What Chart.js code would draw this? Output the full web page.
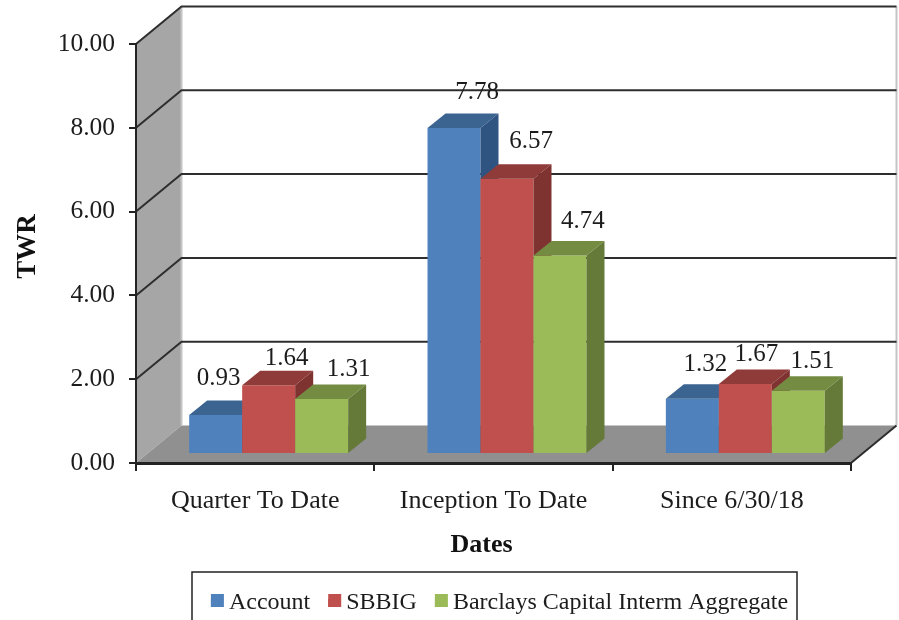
<!DOCTYPE html>
<html>
<head>
<meta charset="utf-8">
<style>html,body{margin:0;padding:0;background:#fff;overflow:hidden}canvas{display:block}</style>
<script src="https://cdn.jsdelivr.net/npm/chart.js@4"></script>
</head>
<body>
<canvas id="c" width="899" height="620"></canvas>
<script>
const categories = ['Quarter To Date', 'Inception To Date', 'Since 6/30/18'];
const account = [0.93, 7.78, 1.32];
const sbbig = [1.64, 6.57, 1.67];
const barclays = [1.31, 4.74, 1.51];
const seriesNames = ['Account', 'SBBIG', 'Barclays Capital Interm Aggregate'];

const FONT = '"Liberation Serif","Times New Roman",serif';
const WALL = {dx: 45.5, dy: 37.5};
const BAR_SHIFT = {dx: 13.5, dy: 9};
const BAR_DEPTH = {dx: 18, dy: 14.5};
const faces = [
  {top: '#3c6491', side: '#2f5482'},
  {top: '#8f3b39', side: '#7f3331'},
  {top: '#748c42', side: '#657a39'}
];
// manual label placement relative to each bar's front-top centre [dx, dy]
const labelShift = [
  [[3,-37],[23,-36],[13,-34]],
  [[18,-27],[24,-37],[11,-30]],
  [[27,-30],[23,-34],[14,-29]]
];

function poly(ctx, pts, fill) {
  ctx.beginPath();
  pts.forEach((p, i) => i ? ctx.lineTo(p[0], p[1]) : ctx.moveTo(p[0], p[1]));
  ctx.closePath();
  ctx.fillStyle = fill;
  ctx.fill();
}

const scene3d = {
  id: 'scene3d',
  afterLayout(chart) {
    const lg = chart.legend;
    const shift = 148;
    lg.left = shift;
    lg.top = 573;
    lg.legendHitBoxes.forEach(h => { h.left += shift / 2; });
    const wrap = (s, dx, dy) => {
      if (s._wrapped) return;
      s._wrapped = true;
      const orig = s.drawTitle;
      s.drawTitle = function () {
        const k = [this.left, this.right, this.top, this.bottom];
        this.left += dx; this.right += dx; this.top += dy; this.bottom += dy;
        orig.apply(this, arguments);
        [this.left, this.right, this.top, this.bottom] = k;
      };
    };
    wrap(chart.scales.x, -12, 0);
    wrap(chart.scales.y, 0, -7);
  },
  beforeDraw(chart) {
    const {ctx, chartArea: a, scales: {y}} = chart;
    const d = WALL;
    ctx.save();
    ctx.fillStyle = '#fff';
    ctx.fillRect(0, 0, chart.width, chart.height);
    // side wall and floor
    poly(ctx, [[a.left, a.top], [a.left + d.dx, a.top - d.dy], [a.left + d.dx, a.bottom - d.dy], [a.left, a.bottom]], '#a6a6a6');
    poly(ctx, [[a.left, a.bottom], [a.right, a.bottom], [a.right + d.dx, a.bottom - d.dy], [a.left + d.dx, a.bottom - d.dy]], '#909090');
    // lighter edges of the back wall
    ctx.strokeStyle = '#c4c4c4';
    ctx.lineWidth = 2;
    ctx.beginPath();
    ctx.moveTo(a.left + d.dx, a.top - d.dy); ctx.lineTo(a.left + d.dx, a.bottom - d.dy);
    ctx.moveTo(a.right + d.dx, a.top - d.dy); ctx.lineTo(a.right + d.dx, a.bottom - d.dy);
    ctx.stroke();
    // gridlines: diagonal across the wall, then along the back
    ctx.strokeStyle = '#2e2e2e';
    ctx.lineWidth = 2;
    y.ticks.forEach(t => {
      const py = y.getPixelForValue(t.value);
      ctx.beginPath();
      if (t.value === 0) {
        ctx.moveTo(a.right, py); ctx.lineTo(a.right + d.dx, py - d.dy);
      } else {
        ctx.moveTo(a.left, py); ctx.lineTo(a.left + d.dx, py - d.dy);
        ctx.lineTo(a.right + d.dx, py - d.dy);
      }
      ctx.stroke();
    });
    ctx.restore();
  },
  // Painter's order: first series first, so each bar's front hides its left neighbour's side.
  beforeDatasetsDraw(chart) {
    const ctx = chart.ctx;
    const d = BAR_DEPTH;
    chart.data.datasets.forEach((ds, i) => {
      const meta = chart.getDatasetMeta(i);
      const f = faces[i];
      ctx.save();
      ctx.translate(BAR_SHIFT.dx, -BAR_SHIFT.dy);
      meta.controller.draw();
      meta.data.forEach(b => {
        const l = b.x - b.width / 2, r = b.x + b.width / 2, t = b.y, base = b.base;
        poly(ctx, [[l, t], [r, t], [r + d.dx, t - d.dy], [l + d.dx, t - d.dy]], f.top);
        poly(ctx, [[r, t], [r + d.dx, t - d.dy], [r + d.dx, base - d.dy], [r, base]], f.side);
      });
      ctx.restore();
    });
    ctx.save();
    ctx.font = '25px ' + FONT;
    ctx.fillStyle = '#1c1c1c';
    ctx.textAlign = 'center';
    ctx.textBaseline = 'middle';
    chart.data.datasets.forEach((ds, i) => {
      chart.getDatasetMeta(i).data.forEach((b, j) => {
        const s = labelShift[i][j];
        ctx.fillText(ds.data[j].toFixed(2), b.x + BAR_SHIFT.dx + s[0], b.y - BAR_SHIFT.dy + s[1]);
      });
    });
    ctx.restore();
    return false;
  },
  afterDraw(chart) {
    const ctx = chart.ctx;
    ctx.save();
    ctx.strokeStyle = '#222';
    ctx.lineWidth = 1.5;
    ctx.strokeRect(192, 572, 605, 60);
    // widen the legend swatches, whose text offset is tied to the box width
    chart.legend.legendHitBoxes.forEach((h, i) => {
      ctx.fillStyle = chart.data.datasets[i].backgroundColor;
      ctx.fillRect(h.left, 594, 13, 13);
    });
    ctx.restore();
  }
};

new Chart(document.getElementById('c'), {
  type: 'bar',
  data: {
    labels: categories,
    datasets: [
      {label: seriesNames[0], data: account, backgroundColor: '#4f81bd'},
      {label: seriesNames[1], data: sbbig, backgroundColor: '#c0504d'},
      {label: seriesNames[2], data: barclays, backgroundColor: '#9bbb59'}
    ]
  },
  plugins: [scene3d],
  options: {
    responsive: false,
    animation: false,
    layout: {padding: {top: 44, right: 48, left: 0, bottom: 0}},
    datasets: {bar: {categoryPercentage: 0.667, barPercentage: 1, borderWidth: 0, clip: false}},
    plugins: {
      title: {display: false},
      tooltip: {enabled: false},
      legend: {
        display: true,
        position: 'bottom',
        labels: {
          boxWidth: 6, boxHeight: 8, padding: 18, color: '#1c1c1c',
          font: {family: FONT, size: 24}
        }
      }
    },
    scales: {
      x: {
        afterFit(s) { s.height = 105; },
        grid: {display: true, drawOnChartArea: false, drawTicks: true, tickLength: 8, color: '#222', lineWidth: 2},
        border: {display: true, color: '#222', width: 3},
        ticks: {color: '#1c1c1c', padding: 15, font: {family: FONT, size: 26}, maxRotation: 0},
        title: {display: true, text: 'Dates', color: '#111', padding: {top: 14, bottom: 7}, font: {family: FONT, size: 26, weight: 'bold'}}
      },
      y: {
        min: 0, max: 10,
        afterFit(s) { s.width = 136; },
        grid: {display: true, drawOnChartArea: false, drawTicks: true, tickLength: 7, color: '#222', lineWidth: 2},
        border: {display: true, color: '#222', width: 2},
        ticks: {stepSize: 2, color: '#1c1c1c', padding: 14, font: {family: FONT, size: 25.5}, callback: v => v.toFixed(2)},
        title: {display: true, text: 'TWR', color: '#111', padding: {top: 12}, font: {family: FONT, size: 27, weight: 'bold'}}
      }
    }
  }
});
</script>
</body>
</html>
